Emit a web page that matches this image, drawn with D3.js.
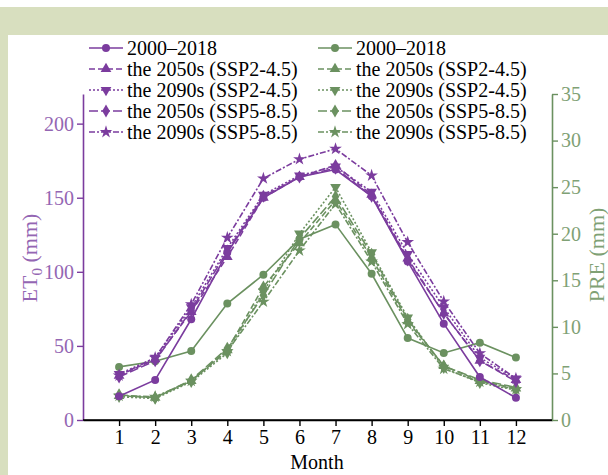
<!DOCTYPE html>
<html>
<head>
<meta charset="utf-8">
<script src="https://cdn.jsdelivr.net/npm/d3@7"></script>
<style>
  body { margin: 0; background: #fff; }
  svg { display: block; font-family: "Liberation Serif", "Times New Roman", serif; }
</style>
</head>
<body>
<div id="chart"></div>
<script>
var width = 608;
var height = 475;

var months = [1, 2, 3, 4, 5, 6, 7, 8, 9, 10, 11, 12];
var seriesNames = ["2000\u20132018", "the 2050s (SSP2-4.5)", "the 2090s (SSP2-4.5)", "the 2050s (SSP5-8.5)", "the 2090s (SSP5-8.5)"];

// ET0 (left axis)
var et0Base   = [16, 27, 68, 113, 150, 164, 169, 151, 107, 65, 29, 15];
var et0Ssp245_2050 = [30, 41, 73, 110, 150, 164, 172, 152, 109, 72, 40, 27];
var et0Ssp245_2090 = [31, 42, 76, 116, 152, 165, 171, 154, 112, 76, 42, 28];
var et0Ssp585_2050 = [29, 40, 74, 114, 151, 164, 170, 151, 108, 72, 40, 26];
var et0Ssp585_2090 = [30, 42, 78, 123, 163, 176, 183, 165, 120, 80, 45, 28];

// PRE (right axis)
var preBase   = [5.7, 6.3, 7.4, 12.5, 15.6, 19.4, 21.0, 15.7, 8.8, 7.2, 8.3, 6.7];
var preSsp245_2050 = [2.6, 2.4, 4.2, 7.5, 14.3, 19.0, 23.6, 17.4, 10.6, 5.8, 4.2, 3.4];
var preSsp245_2090 = [2.5, 2.3, 4.1, 7.2, 13.8, 20.0, 25.0, 18.0, 11.0, 5.6, 4.0, 3.2];
var preSsp585_2050 = [2.7, 2.4, 4.3, 7.7, 13.4, 19.5, 24.0, 17.8, 10.8, 5.8, 4.3, 3.5];
var preSsp585_2090 = [2.6, 2.5, 4.2, 7.4, 12.7, 18.2, 23.2, 17.0, 10.3, 5.5, 4.1, 3.3];

var leftTicks = [0, 50, 100, 150, 200];
var rightTicks = [0, 5, 10, 15, 20, 25, 30, 35];

var purple = "#7b3c9e";
var green = "#6b9160";
var purpleText = "#9466b3";
var greenText = "#7fa175";

var styles = [
  { dash: null,        symbol: d3.symbolCircle,   size: 50, rotate: 0 },
  { dash: "6,3",       symbol: d3.symbolTriangle, size: 50, rotate: 0 },
  { dash: "2,2",       symbol: d3.symbolTriangle, size: 50, rotate: 180 },
  { dash: "9,3",       symbol: d3.symbolDiamond,  size: 50, rotate: 0 },
  { dash: "6,2,2,2",   symbol: d3.symbolStar,     size: 50, rotate: 0 }
];

var et0Series = [et0Base, et0Ssp245_2050, et0Ssp245_2090, et0Ssp585_2050, et0Ssp585_2090];
var preSeries = [preBase, preSsp245_2050, preSsp245_2090, preSsp585_2050, preSsp585_2090];

var svg = d3.select("#chart").append("svg")
    .attr("width", width)
    .attr("height", height);

// page background like the reference (green band + left strip)
svg.append("rect").attr("x", 0).attr("y", 7).attr("width", width).attr("height", 28).attr("fill", "#d8dfbf");
svg.append("rect").attr("x", 0).attr("y", 7).attr("width", 8).attr("height", height).attr("fill", "#d8dfbf");

var x = d3.scaleLinear().domain([0, 13]).range([83, 552]);
var yL = d3.scaleLinear().domain([0, 220]).range([420, 94]);
var yR = d3.scaleLinear().domain([0, 35]).range([420, 94]);

// axes
var xAxis = svg.append("g")
    .attr("transform", "translate(0,420)")
    .call(d3.axisBottom(x).tickValues(months).tickSize(6).tickSizeOuter(0).tickPadding(4));
xAxis.select(".domain").attr("stroke", "#000").attr("stroke-width", 1.6);
xAxis.selectAll(".tick line").attr("stroke", "#000").attr("stroke-width", 1.4);
xAxis.selectAll("text").attr("fill", "#000").attr("font-size", 20).attr("font-family", "Liberation Serif");

var lAxis = svg.append("g")
    .attr("transform", "translate(83,0)")
    .call(d3.axisLeft(yL).tickValues(leftTicks).tickSize(6).tickSizeOuter(0).tickPadding(3));
lAxis.select(".domain").attr("stroke", purple).attr("stroke-width", 1.6);
lAxis.selectAll(".tick line").attr("stroke", purple).attr("stroke-width", 1.4);
lAxis.selectAll("text").attr("fill", purpleText).attr("font-size", 20).attr("font-family", "Liberation Serif");

var rAxis = svg.append("g")
    .attr("transform", "translate(552,0)")
    .call(d3.axisRight(yR).tickValues(rightTicks).tickSize(6).tickSizeOuter(0).tickPadding(3));
rAxis.select(".domain").attr("stroke", green).attr("stroke-width", 1.6);
rAxis.selectAll(".tick line").attr("stroke", green).attr("stroke-width", 1.4);
rAxis.selectAll("text").attr("fill", greenText).attr("font-size", 20).attr("font-family", "Liberation Serif");

// redraw x domain on top so it stays black
svg.append("line").attr("x1", 83).attr("x2", 552).attr("y1", 420).attr("y2", 420)
    .attr("stroke", "#000").attr("stroke-width", 1.6);

function drawSeries(values, yScale, color, st) {
  var line = d3.line()
      .x(function(d, i){ return x(months[i]); })
      .y(function(d){ return yScale(d); });
  svg.append("path")
      .datum(values)
      .attr("d", line)
      .attr("fill", "none")
      .attr("stroke", color)
      .attr("stroke-width", 1.6)
      .attr("stroke-dasharray", st.dash);
  svg.selectAll(null)
      .data(values)
      .enter()
      .append("path")
      .attr("d", d3.symbol().type(st.symbol).size(st.size))
      .attr("transform", function(d, i){
        return "translate(" + x(months[i]) + "," + yScale(d) + ") rotate(" + st.rotate + ")";
      })
      .attr("fill", color);
}

preSeries.forEach(function(s, i){ drawSeries(s, yR, green, styles[i]); });
et0Series.forEach(function(s, i){ drawSeries(s, yL, purple, styles[i]); });

// axis titles
svg.append("text")
    .attr("x", 317).attr("y", 469)
    .attr("text-anchor", "middle")
    .attr("font-size", 20)
    .text("Month");

var et = svg.append("text")
    .attr("transform", "translate(37,258) rotate(-90)")
    .attr("text-anchor", "middle")
    .attr("font-size", 22)
    .attr("fill", purpleText);
et.append("tspan").text("ET");
et.append("tspan").attr("font-size", 15).attr("dy", 5).text("0");
et.append("tspan").attr("dy", -5).text(" (mm)");

svg.append("text")
    .attr("transform", "translate(604,255) rotate(-90)")
    .attr("text-anchor", "middle")
    .attr("font-size", 22)
    .attr("fill", greenText)
    .text("PRE (mm)");

// legends
var legendRows = [48, 69, 90, 111, 132];
function drawLegend(x0, color) {
  seriesNames.forEach(function(name, i){
    var st = styles[i];
    var yy = legendRows[i];
    svg.append("line")
        .attr("x1", x0).attr("x2", x0 + 34)
        .attr("y1", yy).attr("y2", yy)
        .attr("stroke", color).attr("stroke-width", 1.6)
        .attr("stroke-dasharray", st.dash);
    svg.append("path")
        .attr("d", d3.symbol().type(st.symbol).size(st.size))
        .attr("transform", "translate(" + (x0 + 17) + "," + yy + ") rotate(" + st.rotate + ")")
        .attr("fill", color);
    svg.append("text")
        .attr("x", x0 + 38).attr("y", yy + 7)
        .attr("font-size", 20)
        .attr("fill", "#000")
        .text(name);
  });
}
drawLegend(89, purple);
drawLegend(318, green);
</script>
</body>
</html>
